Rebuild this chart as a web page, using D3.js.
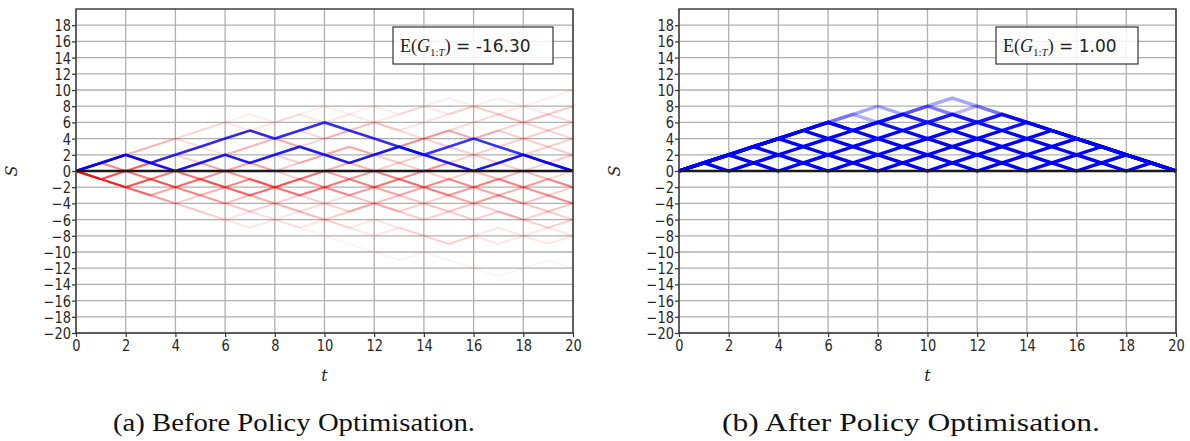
<!DOCTYPE html>
<html>
<head>
<meta charset="utf-8">
<script src="https://cdn.jsdelivr.net/npm/d3@7"></script>
<style>
  body { margin: 0; background: #fff; }
  svg { display: block; }
</style>
</head>
<body>
<svg id="chart" width="1190" height="441"></svg>
<script>
// ---------------- DATA ----------------
const tValues = [0,1,2,3,4,5,6,7,8,9,10,11,12,13,14,15,16,17,18,19,20];
const xTickValues = [0,2,4,6,8,10,12,14,16,18,20];
const yTickValues = [-20,-18,-16,-14,-12,-10,-8,-6,-4,-2,0,2,4,6,8,10,12,14,16,18];

// Panel (a): sampled trajectories before optimisation (red, faint) and the two returning ones (blue)
const beforeBluePaths = [
  [0,1,2,1,2,3,4,5,4,5,6,5,4,3,2,3,4,3,2,1,0],
  [0,1,2,1,0,1,2,1,2,3,2,1,2,3,2,1,0,1,2,1,0]
];
const beforeBlueOpacity = [0.8, 0.88];

const beforeRedPaths = [
  [0,1,2,3,4,5,6,7,6,7,8,7,8,7,8,9,8,9,8,9,10],
  [0,1,2,3,4,5,6,5,6,7,6,7,6,7,8,7,8,7,8,7,8],
  [0,1,2,3,4,3,4,5,4,5,4,5,6,5,4,5,6,7,6,7,6],
  [0,-1,0,1,2,3,4,5,4,3,4,5,4,3,4,5,4,5,6,5,4],
  [0,1,0,1,2,1,2,3,4,3,2,3,2,3,4,3,2,3,4,3,2],
  [0,-1,0,1,0,1,2,1,0,1,2,1,2,1,2,1,0,1,2,1,2],
  [0,-1,-2,-1,0,-1,0,-1,-2,-1,0,1,0,-1,0,1,0,-1,0,-1,-2],
  [0,-1,0,-1,-2,-1,-2,-3,-2,-1,-2,-1,0,-1,-2,-1,-2,-1,-2,-3,-4],
  [0,-1,-2,-3,-2,-3,-4,-3,-2,-3,-2,-3,-4,-3,-4,-5,-4,-3,-4,-5,-4],
  [0,-1,-2,-3,-4,-3,-4,-5,-4,-5,-6,-5,-4,-5,-6,-5,-6,-5,-6,-7,-6],
  [0,-1,-2,-3,-4,-5,-6,-5,-6,-7,-6,-7,-8,-7,-8,-9,-8,-7,-8,-7,-8],
  [0,-1,-2,-3,-4,-5,-4,-5,-6,-7,-8,-9,-10,-11,-10,-11,-12,-13,-12,-11,-12],
  [0,1,2,1,0,-1,-2,-1,-2,-1,0,-1,-2,-3,-2,-1,-2,-3,-4,-3,-4],
  [0,-1,-2,-1,-2,-3,-2,-3,-2,-1,0,-1,-2,-1,0,1,2,1,2,3,4],
  [0,1,0,-1,0,1,0,1,2,1,2,3,2,3,4,5,4,5,4,5,6],
  [0,-1,0,1,2,3,2,3,4,5,6,5,6,5,6,7,8,7,6,7,8],
  [0,-1,-2,-1,-2,-1,-2,-3,-4,-3,-4,-5,-4,-5,-4,-3,-4,-5,-6,-5,-6],
  [0,-1,-2,-3,-2,-3,-2,-3,-4,-5,-4,-3,-2,-3,-2,-3,-2,-3,-2,-1,0],
  [0,1,0,1,0,-1,0,1,0,-1,-2,-1,0,1,0,-1,0,1,0,1,0],
  [0,-1,-2,-3,-4,-5,-6,-7,-6,-5,-6,-7,-6,-7,-8,-9,-8,-9,-8,-9,-8],
  [0,-1,-2,-1,-2,-1,-2,-1,-2,-3,-2,-3,-2,-1,-2,-3,-2,-1,-2,-1,-2],
  [0,-1,0,-1,0,1,0,-1,-2,-3,-2,-1,-2,-1,-2,-3,-4,-3,-2,-3,-2]
];
const beforeRedOpacity = [0.07,0.1,0.16,0.18,0.2,0.22,0.3,0.3,0.25,0.2,0.1,0.05,0.25,0.2,0.2,0.12,0.2,0.15,0.2,0.1,0.3,0.2];

// Panel (b): trajectories after optimisation (blue)
const afterBluePaths = [
  [0,1,0,1,0,1,0,1,0,1,0,1,0,1,0,1,0,1,0,1,0],
  [0,1,2,1,2,1,2,1,2,1,2,1,2,1,2,1,2,1,2,1,0],
  [0,1,2,3,2,3,2,3,2,3,2,3,2,3,2,3,2,3,2,1,0],
  [0,1,2,3,4,3,4,3,4,3,4,3,4,3,4,3,4,3,2,1,0],
  [0,1,2,3,4,5,4,5,4,5,4,5,4,5,4,5,4,3,2,1,0],
  [0,1,2,3,4,5,6,5,6,5,6,5,6,5,6,5,4,3,2,1,0],
  [0,1,2,3,4,5,6,5,6,7,6,7,6,7,6,5,4,3,2,1,0],
  [0,1,2,3,4,5,6,7,8,7,8,9,8,7,6,5,4,3,2,1,0],
  [0,1,2,3,4,5,6,7,6,7,8,7,6,7,6,5,4,3,2,1,0],
  [0,1,2,3,4,5,6,5,6,7,8,7,8,7,6,5,4,3,2,1,0]
];
const afterBlueOpacity = [1,1,1,1,1,0.95,0.9,0.35,0.3,0.3];

const expectedReturns = ["-16.30", "1.00"];
const captions = ["(a) Before Policy Optimisation.", "(b) After Policy Optimisation."];

// ---------------- DRAWING ----------------
const svg = d3.select("#chart");
svg.append("rect").attr("width",1190).attr("height",441).attr("fill","#fff");

const panels = [
  {left:76, right:573, red:beforeRedPaths, redOp:beforeRedOpacity, blue:beforeBluePaths, blueOp:beforeBlueOpacity, blueW:2.6,
   ret:expectedReturns[0], box:[393,27,160,37], cap:captions[0], capX:113, capLen:362, yLab:17},
  {left:679, right:1176, red:[], redOp:[], blue:afterBluePaths, blueOp:afterBlueOpacity, blueW:3.4,
   ret:expectedReturns[1], box:[996,27,142,37], cap:captions[1], capX:722, capLen:378, yLab:620}
];

const plotTop = 9, plotBottom = 333;

panels.forEach(p => {
  const x = d3.scaleLinear().domain([0,20]).range([p.left,p.right]);
  const y = d3.scaleLinear().domain([-20,20]).range([plotBottom,plotTop]);
  const g = svg.append("g");

  // grid
  g.append("g").selectAll("line").data(xTickValues).join("line")
    .attr("x1",d=>x(d)).attr("x2",d=>x(d)).attr("y1",plotTop).attr("y2",plotBottom)
    .attr("stroke","#b0b0b0").attr("stroke-width",1.3);
  g.append("g").selectAll("line").data(yTickValues).join("line")
    .attr("x1",p.left).attr("x2",p.right).attr("y1",d=>y(d)).attr("y2",d=>y(d))
    .attr("stroke","#b0b0b0").attr("stroke-width",1.3);

  const line = d3.line().x((d,i)=>x(tValues[i])).y(d=>y(d));

  // red trajectories
  g.append("g").selectAll("path").data(p.red).join("path")
    .attr("d",line).attr("fill","none").attr("stroke","#ff0000")
    .attr("stroke-opacity",(d,i)=>p.redOp[i]).attr("stroke-width",2);

  // blue trajectories
  g.append("g").selectAll("path").data(p.blue).join("path")
    .attr("d",line).attr("fill","none").attr("stroke","#0000ff")
    .attr("stroke-opacity",(d,i)=>p.blueOp[i]).attr("stroke-width",p.blueW);

  // zero line
  g.append("line").attr("x1",p.left).attr("x2",p.right).attr("y1",y(0)).attr("y2",y(0))
    .attr("stroke","#1a1a1a").attr("stroke-width",2.6);

  // frame
  g.append("rect").attr("x",p.left).attr("y",plotTop).attr("width",p.right-p.left).attr("height",plotBottom-plotTop)
    .attr("fill","none").attr("stroke","#333").attr("stroke-width",1.4);

  // axes
  const ax = g.append("g").attr("transform",`translate(0,${plotBottom})`)
    .call(d3.axisBottom(x).tickValues(xTickValues).tickSize(4).tickSizeOuter(0).tickPadding(3));
  const ay = g.append("g").attr("transform",`translate(${p.left},0)`)
    .call(d3.axisLeft(y).tickValues(yTickValues).tickSize(4).tickSizeOuter(0).tickPadding(2));
  [ax,ay].forEach(a => {
    a.select(".domain").remove();
    a.selectAll(".tick line").attr("stroke","#333").attr("stroke-width",1.2);
    a.selectAll(".tick text").attr("font-family","DejaVu Sans").attr("font-size",15.5)
      .attr("fill","#262626").attr("transform","scale(0.84,1)");
  });
  ay.selectAll(".tick text").attr("dy","0.36em");

  // axis labels
  g.append("text").attr("x",(p.left+p.right)/2).attr("y",381).attr("text-anchor","middle")
    .attr("font-family","DejaVu Serif").attr("font-style","italic").attr("font-size",16)
    .attr("fill","#262626").text("t");
  g.append("text").attr("transform",`translate(${p.yLab},171) rotate(-90)`).attr("text-anchor","middle")
    .attr("font-family","DejaVu Serif").attr("font-style","italic").attr("font-size",16)
    .attr("fill","#262626").text("S");

  // legend box
  const [bx,by,bw,bh] = p.box;
  g.append("rect").attr("x",bx).attr("y",by).attr("width",bw).attr("height",bh)
    .attr("fill","#fff").attr("fill-opacity",0.85).attr("stroke","#333").attr("stroke-width",1.2);
  const lt = g.append("text").attr("x",bx+7).attr("y",by+25).attr("font-size",18).attr("fill","#222");
  lt.append("tspan").attr("font-family","Liberation Serif").text("E(");
  lt.append("tspan").attr("font-family","Liberation Serif").attr("font-style","italic").text("G");
  lt.append("tspan").attr("font-family","Liberation Serif").attr("font-size",11).attr("dy",4).text("1:");
  lt.append("tspan").attr("font-family","Liberation Serif").attr("font-style","italic").attr("font-size",11).text("T");
  lt.append("tspan").attr("font-family","Liberation Serif").attr("dy",-4).text(")");
  lt.append("tspan").attr("font-family","DejaVu Sans").attr("font-size",17).text(" = " + p.ret);

  // caption
  svg.append("text").attr("x",p.capX).attr("y",431).attr("font-family","Liberation Serif")
    .attr("font-size",25).attr("fill","#111").attr("textLength",p.capLen).attr("lengthAdjust","spacingAndGlyphs")
    .text(p.cap);
});
</script>
</body>
</html>
